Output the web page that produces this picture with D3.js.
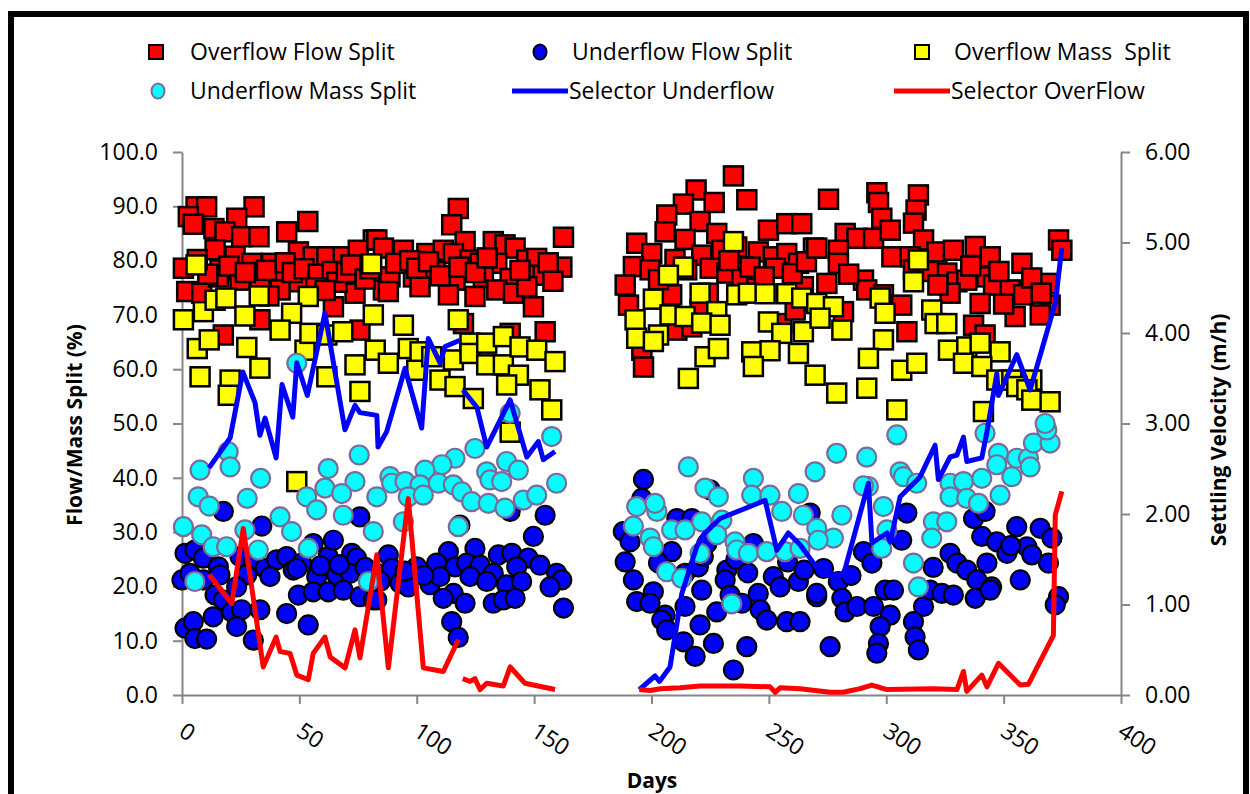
<!DOCTYPE html>
<html>
  <head>
    <meta charset="UTF-8" />
    <title>Flow and Mass Split</title>
    <script src="https://d3js.org/d3.v7.min.js"></script>
    <style>
      body { margin: 0; background: #fff; }
      svg text { font-family: "Open Sans", "Noto Sans", sans-serif; fill: #000; }
    </style>
  </head>
  <body>
    <svg id="chart" width="1250" height="794"></svg>
    <script>
      // [day, %] pairs
      const overflowFlow = [
        [6.0, 89.9], [10.5, 89.9], [30.7, 89.9], [2.7, 88.1], [4.8, 86.7], [13.6, 85.9], [23.3, 87.8],
        [18.3, 85.3], [25.4, 84.4], [32.8, 84.4], [44.6, 85.3], [53.6, 87.2], [14.1, 82.0], [22.6, 80.8],
        [29.7, 79.5], [38.2, 79.5], [0.6, 78.6], [16.2, 78.3], [49.6, 81.6], [55.9, 80.7], [61.7, 80.7],
        [68.7, 80.7], [81.5, 83.8], [75.1, 81.9], [2.0, 74.3], [8.4, 74.0], [15.5, 77.0], [24.7, 76.4],
        [33.2, 75.5], [41.8, 76.4], [49.6, 76.1], [41.8, 74.6], [64.5, 71.5], [33.2, 69.1], [17.6, 66.3],
        [73.7, 74.0], [75.8, 67.2], [85.8, 74.6], [11.0, 77.5], [20.0, 79.0], [27.0, 77.8], [36.0, 78.2],
        [44.0, 79.6], [47.0, 77.8], [52.0, 78.5], [58.0, 77.5], [64.0, 78.0], [66.0, 76.0], [70.0, 77.8],
        [72.0, 79.2], [78.0, 76.6], [80.0, 78.5], [57.0, 75.0], [61.0, 74.5], [37.0, 73.5], [6.5, 80.2],
        [117.7, 89.6], [114.9, 86.6], [120.6, 83.5], [162.5, 84.3], [83.0, 83.8], [85.8, 82.3], [94.3, 81.9],
        [104.3, 81.3], [111.3, 81.9], [115.6, 81.3], [132.6, 83.5], [137.6, 82.9], [141.9, 82.3], [122.7, 80.1],
        [127.0, 79.5], [134.1, 79.5], [146.9, 80.1], [151.1, 80.4], [161.8, 78.8], [88.6, 77.0], [98.6, 77.0],
        [107.8, 78.0], [116.3, 76.4], [128.4, 77.0], [139.8, 76.7], [147.5, 77.3], [153.9, 77.3], [87.9, 74.3],
        [101.4, 75.2], [113.5, 73.7], [124.8, 73.4], [134.1, 74.6], [141.2, 74.0], [146.9, 75.2], [149.7, 71.5],
        [119.9, 68.4], [139.8, 66.6], [154.7, 66.9], [91.0, 79.5], [97.0, 80.0], [100.0, 78.6], [105.0, 79.8],
        [110.0, 77.2], [118.0, 78.8], [125.0, 77.8], [130.0, 80.5], [144.0, 78.2], [156.0, 79.6], [158.0, 76.2],
        [234.9, 95.6], [219.0, 93.0], [240.6, 91.2], [213.6, 90.4], [226.7, 90.7], [206.5, 88.4], [220.7, 87.2],
        [205.8, 85.3], [214.3, 83.9], [193.7, 83.2], [227.8, 85.0], [200.1, 81.3], [221.4, 81.0], [230.0, 81.9],
        [236.3, 82.5], [245.5, 81.6], [249.8, 85.6], [257.6, 86.8], [264.0, 86.8], [251.9, 80.7], [257.6, 81.3],
        [262.6, 79.5], [269.0, 82.3], [192.3, 78.9], [199.4, 78.3], [188.8, 75.5], [208.6, 73.7], [215.0, 78.3],
        [225.0, 78.6], [232.1, 77.7], [238.5, 76.7], [244.9, 74.9], [252.7, 78.6], [264.7, 75.2], [190.2, 71.8],
        [220.7, 70.9], [224.2, 74.0], [210.8, 67.2], [217.2, 67.8], [255.5, 68.4], [261.2, 70.9], [195.9, 63.5],
        [196.6, 60.4], [203.0, 76.5], [210.0, 80.2], [233.0, 80.0], [242.0, 78.8], [248.0, 77.0], [260.0, 77.6],
        [266.0, 79.8],
        [275.4, 91.3], [296.0, 92.5], [296.7, 90.7], [313.7, 92.1], [312.7, 89.3], [298.1, 87.8], [311.6, 86.9],
        [282.5, 85.0], [287.5, 84.1], [294.6, 84.1], [301.7, 85.6], [315.9, 83.8], [270.4, 82.3], [279.6, 81.9],
        [279.6, 79.5], [302.4, 80.7], [310.2, 80.7], [321.6, 81.6], [328.6, 81.9], [337.9, 82.6], [344.3, 80.7],
        [357.8, 79.5], [373.4, 83.8], [374.8, 81.9], [274.7, 75.8], [290.3, 76.4], [291.7, 74.6], [298.8, 73.7],
        [306.6, 71.8], [311.6, 78.3], [325.8, 77.7], [330.1, 76.1], [334.3, 76.4], [342.9, 77.0], [345.7, 75.5],
        [352.8, 74.6], [358.5, 73.7], [369.1, 75.8], [369.8, 71.8], [327.2, 74.0], [340.0, 72.1], [354.9, 69.7],
        [365.6, 70.0], [281.8, 70.6], [308.8, 66.9], [337.2, 68.1], [342.1, 66.3], [284.0, 77.5], [318.0, 78.0],
        [322.0, 75.5], [336.0, 79.0], [348.0, 78.0], [362.0, 76.8], [366.0, 74.0], [350.0, 72.0]
      ];

      const underflowFlow = [
        [17.6, 33.8], [34.0, 31.1], [75.8, 32.8], [1.3, 26.1], [5.5, 26.7], [9.1, 25.2], [15.5, 23.6],
        [24.7, 25.5], [30.4, 24.3], [35.4, 23.3], [40.3, 24.9], [44.6, 25.5], [47.4, 23.0], [51.0, 24.3],
        [55.9, 27.9], [62.3, 25.5], [64.5, 28.5], [72.3, 26.1], [74.4, 25.2], [0.0, 21.2], [3.4, 22.4],
        [9.1, 21.2], [16.2, 22.1], [27.6, 22.1], [37.5, 21.8], [48.9, 23.3], [57.4, 21.8], [65.9, 22.1],
        [71.6, 22.4], [83.0, 22.4], [14.1, 18.4], [17.6, 17.5], [23.3, 19.9], [49.6, 18.4], [55.9, 19.0],
        [62.3, 19.0], [68.7, 19.3], [75.8, 18.1], [81.5, 17.5], [13.3, 14.4], [21.2, 15.3], [25.4, 15.7],
        [33.2, 15.7], [44.6, 15.0], [23.3, 12.6], [1.3, 12.3], [4.8, 13.5], [5.5, 10.4], [10.5, 10.3],
        [30.4, 10.1], [53.8, 12.9], [59.0, 23.8], [67.0, 24.0], [78.0, 23.5],
        [154.7, 33.1], [149.7, 29.2], [118.4, 31.3], [139.8, 33.8], [87.9, 25.8], [113.5, 26.4], [124.8, 27.0],
        [134.8, 25.8], [140.5, 26.1], [147.5, 25.2], [89.3, 23.3], [100.0, 23.6], [108.5, 24.3], [116.3, 23.6],
        [121.3, 24.3], [127.0, 23.9], [132.6, 22.4], [142.6, 23.6], [152.5, 23.9], [159.6, 22.4], [161.8, 21.2],
        [84.4, 20.9], [92.9, 20.6], [96.4, 19.9], [105.7, 20.3], [109.9, 21.8], [122.7, 21.8], [129.8, 20.9],
        [138.3, 20.3], [144.7, 20.9], [156.8, 19.9], [83.0, 17.5], [115.6, 18.7], [111.3, 17.8], [120.6, 16.9],
        [132.6, 16.9], [136.9, 17.5], [141.9, 17.8], [162.5, 16.0], [114.9, 13.5], [117.7, 10.6], [95.0, 22.8],
        [103.0, 22.0],
        [196.6, 39.7], [195.9, 36.2], [188.0, 30.1], [190.9, 28.2], [188.8, 24.5], [192.3, 21.2], [200.8, 19.0],
        [193.7, 17.2], [199.4, 16.9], [205.8, 14.7], [204.4, 13.8], [206.5, 12.0], [210.8, 32.5], [217.2, 32.5],
        [208.6, 26.4], [203.0, 24.3], [214.3, 22.4], [220.0, 23.6], [222.1, 25.5], [223.6, 27.9], [225.0, 37.8],
        [221.4, 19.3], [214.3, 16.3], [220.7, 12.9], [213.6, 9.8], [218.6, 7.1], [226.4, 9.5], [234.9, 4.6],
        [240.6, 8.9], [232.1, 23.0], [231.4, 21.2], [233.5, 18.4], [238.5, 16.9], [227.8, 15.3], [243.4, 27.9],
        [245.5, 18.7], [246.3, 15.7], [249.1, 13.8], [251.9, 21.8], [254.8, 19.9], [257.6, 13.5], [263.3, 13.5],
        [262.6, 20.9], [267.6, 33.5], [270.4, 18.1], [236.0, 25.0], [241.0, 22.5], [258.0, 24.5], [265.0, 23.0],
        [308.8, 33.5], [337.2, 32.5], [342.1, 33.8], [306.6, 28.5], [340.7, 29.2], [347.1, 28.2], [355.6, 31.0],
        [365.6, 30.7], [370.6, 28.9], [290.3, 26.4], [293.9, 24.3], [327.2, 26.1], [330.1, 24.3], [334.3, 23.0],
        [338.6, 21.2], [344.9, 19.9], [342.9, 24.3], [351.4, 26.1], [359.9, 27.3], [369.1, 24.3], [357.1, 21.2],
        [273.3, 23.3], [279.6, 20.9], [270.4, 18.7], [281.1, 17.8], [282.5, 15.3], [287.5, 16.3], [294.6, 16.3],
        [301.7, 14.7], [299.5, 19.3], [303.1, 19.3], [315.9, 16.3], [318.7, 19.3], [323.7, 18.7], [328.6, 18.4],
        [337.9, 17.8], [344.3, 19.3], [297.4, 12.6], [296.7, 9.5], [296.0, 7.7], [311.6, 13.5], [312.3, 10.7],
        [313.7, 8.3], [276.1, 8.9], [373.4, 18.1], [372.0, 16.6], [362.0, 25.8], [353.0, 27.5], [285.0, 22.0],
        [320.0, 23.5]
      ];

      const overflowMass = [
        [6.0, 79.2], [80.8, 79.4], [0.6, 69.1], [9.1, 70.6], [14.1, 72.7], [18.7, 73.1], [32.9, 73.5],
        [53.8, 73.4], [26.8, 69.8], [46.7, 70.3], [41.8, 67.2], [6.5, 63.8], [11.6, 65.4], [27.6, 64.0],
        [52.4, 63.5], [54.5, 66.6], [61.7, 66.3], [68.5, 66.9], [33.2, 60.2], [7.7, 58.6], [20.5, 58.0],
        [19.7, 55.2], [61.7, 58.6], [73.7, 60.8], [75.8, 55.9], [81.5, 70.0], [82.3, 63.5], [87.9, 61.1],
        [48.9, 39.3], [117.7, 69.1], [94.3, 68.1], [96.4, 63.8], [101.4, 63.2], [100.0, 59.8], [106.4, 62.3],
        [109.9, 58.0], [115.6, 61.7], [116.3, 56.8], [122.7, 64.8], [122.7, 62.9], [129.8, 64.8], [136.9, 66.0],
        [129.8, 60.8], [136.9, 60.8], [144.0, 64.1], [151.1, 63.5], [143.3, 58.9], [138.3, 57.1], [158.9, 61.4],
        [152.5, 56.2], [124.1, 54.6], [157.5, 52.5], [139.8, 48.4],
        [234.9, 83.5], [213.6, 78.8], [207.2, 77.3], [200.8, 72.9], [220.7, 74.0], [236.3, 73.7], [241.3, 74.0],
        [248.4, 73.9], [257.6, 73.9], [264.0, 73.1], [270.4, 72.1], [193.0, 69.1], [207.9, 70.0], [214.3, 69.7],
        [227.8, 70.6], [221.4, 68.5], [229.2, 68.1], [249.8, 68.7], [255.5, 66.6], [264.7, 66.9], [193.7, 65.7],
        [203.0, 66.3], [200.8, 65.1], [222.8, 62.3], [228.5, 63.8], [242.7, 63.2], [250.5, 63.4], [262.6, 62.9],
        [243.4, 60.5], [215.7, 58.3], [269.7, 58.9],
        [313.7, 80.1], [311.6, 76.1], [297.4, 73.1], [299.5, 70.3], [277.5, 71.5], [271.8, 69.4], [281.1, 67.2],
        [319.4, 70.9], [320.8, 68.4], [325.8, 68.4], [298.8, 65.4], [292.4, 62.0], [306.6, 59.8], [313.0, 61.1],
        [278.9, 55.6], [291.7, 56.5], [304.5, 52.5], [326.5, 63.5], [334.3, 64.1], [340.0, 64.8], [348.5, 63.2],
        [332.9, 61.1], [340.7, 60.5], [347.1, 58.0], [353.5, 58.0], [362.0, 58.0], [355.6, 56.8], [359.9, 56.2],
        [362.0, 54.3], [369.8, 54.0], [341.4, 52.2]
      ];

      const underflowMass = [
        [48.9, 61.1], [19.7, 44.8], [7.7, 41.4], [20.5, 42.0], [33.5, 39.9], [62.3, 41.7], [75.5, 44.2],
        [73.7, 39.3], [6.9, 36.5], [11.6, 34.8], [27.8, 36.2], [53.1, 36.5], [60.9, 38.1], [68.0, 37.1],
        [83.0, 36.5], [57.4, 34.1], [68.7, 33.1], [0.6, 31.0], [41.8, 32.8], [46.7, 30.1], [8.4, 29.5],
        [13.3, 27.3], [19.0, 27.3], [26.8, 30.4], [32.5, 26.7], [53.8, 27.0], [81.5, 30.1], [5.5, 20.9],
        [79.4, 20.9],
        [157.5, 47.6], [139.8, 51.9], [124.8, 45.4], [138.3, 43.0], [143.3, 41.4], [116.3, 43.6], [110.7, 42.4],
        [103.5, 41.4], [88.6, 40.2], [89.3, 39.0], [95.0, 39.3], [101.4, 38.7], [109.2, 39.0], [115.6, 38.7],
        [129.8, 41.1], [131.2, 39.6], [136.2, 39.3], [96.4, 36.5], [102.8, 36.8], [119.2, 37.4], [123.4, 35.6],
        [130.5, 35.3], [137.6, 34.4], [145.4, 35.9], [151.1, 36.8], [159.6, 39.0], [94.3, 31.9], [117.7, 31.0],
        [215.7, 42.0], [243.4, 39.9], [222.8, 38.1], [228.5, 36.5], [242.7, 36.8], [250.5, 36.8], [262.6, 37.1],
        [269.7, 41.1], [193.7, 34.7], [202.3, 33.8], [201.5, 35.3], [192.3, 31.1], [208.6, 30.4], [214.3, 30.4],
        [221.4, 31.9], [230.0, 32.2], [255.5, 33.8], [264.7, 33.1], [270.4, 30.7], [199.4, 28.9], [200.8, 27.3],
        [220.7, 26.1], [227.8, 29.5], [235.6, 28.2], [236.3, 26.7], [241.3, 26.1], [249.1, 26.4], [256.9, 26.4],
        [263.3, 27.0], [206.5, 22.7], [212.9, 21.5], [234.2, 16.8],
        [304.5, 47.9], [278.9, 44.5], [291.7, 43.8], [292.4, 38.4], [290.3, 38.5], [305.9, 41.1], [307.3, 40.2],
        [313.0, 39.0], [298.8, 34.7], [281.1, 33.1], [277.5, 28.9], [271.0, 28.5], [298.1, 27.0], [300.3, 30.4],
        [320.1, 31.9], [325.8, 31.9], [319.4, 28.9], [311.6, 24.3], [313.7, 19.9], [327.2, 39.0], [332.9, 39.3],
        [327.2, 36.5], [334.3, 36.2], [340.7, 39.9], [339.3, 35.3], [342.1, 48.2], [347.8, 44.5], [347.1, 42.4],
        [353.5, 40.2], [348.5, 36.8], [355.6, 43.6], [360.6, 43.6], [361.3, 42.0], [362.7, 46.4], [369.8, 46.4],
        [368.4, 48.8], [367.7, 50.0]
      ];

      // [day, m/h]; null marks a break in the line
      const selectorUnderflow = [
        [11.5, 2.51], [20.5, 2.84], [25.9, 3.57], [31.1, 3.23], [33.2, 2.87], [35.4, 3.06], [40.1, 2.62],
        [42.6, 3.43], [47.2, 3.07], [48.9, 3.67], [53.4, 3.31], [60.9, 4.22], [69.4, 2.93], [73.7, 3.2],
        [75.8, 3.12], [83.0, 3.09], [83.5, 2.74], [87.2, 2.91], [95.0, 3.61], [102.1, 2.95], [104.9, 3.94],
        [109.9, 3.67], [112.1, 3.85], [118.4, 3.92], [119.0, null], [119.7, 3.37], [125.6, 3.18], [129.8, 2.74],
        [139.8, 3.26], [146.9, 2.63], [151.8, 2.8], [153.9, 2.6], [158.9, 2.69], [175, null],
        [194.8, 0.06], [201.5, 0.21], [203.4, 0.15], [207.9, 0.31], [212.9, 1.12], [219.3, 1.64], [222.1, 1.77],
        [229.2, 1.95], [248.4, 2.15], [253.4, 1.6], [258.3, 1.79], [263.3, 1.66], [272.6, 1.33], [281.8, 1.33],
        [292.4, 2.34], [293.9, 1.68], [300.3, 1.79], [301.7, 1.69], [305.9, 2.19], [314.4, 2.41], [320.8, 2.76],
        [322.2, 2.38], [327.2, 2.63], [330.1, 2.65], [332.9, 2.85], [334.3, 2.58], [340.7, 2.62], [342.9, 2.91],
        [347.1, 3.55], [347.8, 3.31], [355.6, 3.76], [361.3, 3.37], [372.0, 4.33], [374.8, 4.94]
      ];

      const selectorOverflow = [
        [11.6, 1.33], [21.2, 1.01], [26.1, 1.84], [34.6, 0.31], [40.1, 0.64], [41.8, 0.48], [46.0, 0.46],
        [48.9, 0.22], [53.8, 0.17], [55.9, 0.46], [60.9, 0.64], [63.1, 0.42], [69.5, 0.3], [73.7, 0.72],
        [75.8, 0.41], [83.0, 1.55], [87.9, 0.3], [96.4, 2.17], [102.8, 0.3], [111.3, 0.26], [117.7, 0.61],
        [118.6, null], [119.6, 0.18], [122.7, 0.15], [124.8, 0.18], [127.0, 0.06], [129.8, 0.13], [136.9, 0.1],
        [139.8, 0.31], [146.1, 0.13], [158.9, 0.06], [175, null],
        [194.8, 0.06], [199.4, 0.05], [203.7, 0.07], [212.2, 0.08], [220.7, 0.1], [237.7, 0.1], [250.5, 0.09],
        [252.7, 0.03], [254.8, 0.08], [263.3, 0.07], [276.1, 0.03], [281.6, 0.03], [288.9, 0.07], [293.9, 0.11],
        [300.3, 0.06], [320.1, 0.07], [330.1, 0.06], [332.9, 0.26], [334.3, 0.04], [340.7, 0.22], [342.9, 0.09],
        [347.8, 0.35], [357.1, 0.11], [360.6, 0.12], [371.2, 0.66], [372.0, 1.99], [374.8, 2.25]
      ];

      const leftTicks = d3.range(0, 101, 10);
      const rightTicks = d3.range(0, 7, 1);
      const dayTicks = d3.range(0, 401, 50);

      const svg = d3.select("#chart");
      const x = d3.scaleLinear().domain([0, 400]).range([182, 1121]);
      const yL = d3.scaleLinear().domain([0, 100]).range([695, 152]);
      const yR = d3.scaleLinear().domain([0, 6]).range([695, 152]);

      // outer frame
      svg.append("rect").attr("x", 11).attr("y", 14).attr("width", 1235).attr("height", 820)
        .attr("fill", "#fff").attr("stroke", "#000").attr("stroke-width", 6);

      // axes
      const axisColor = "#868686";
      const styleAxis = (g) => {
        g.select(".domain").attr("stroke", axisColor).attr("stroke-width", 2);
        g.selectAll(".tick line").attr("stroke", axisColor).attr("stroke-width", 2);
        g.selectAll(".tick text").style("font-size", "23px").attr("fill", "#000");
      };

      svg.append("g").attr("transform", "translate(182,0)")
        .call(d3.axisLeft(yL).tickValues(leftTicks).tickFormat(d3.format(".1f")).tickSize(9).tickSizeOuter(0).tickPadding(15))
        .call(styleAxis);

      svg.append("g").attr("transform", "translate(1121,0)")
        .call(d3.axisRight(yR).tickValues(rightTicks).tickFormat(d3.format(".2f")).tickSize(9).tickSizeOuter(0).tickPadding(15))
        .call(styleAxis);

      const xg = svg.append("g").attr("transform", "translate(0,695)")
        .call(d3.axisBottom(x).tickValues(dayTicks).tickFormat(d3.format("d")).tickSize(9).tickSizeOuter(0))
        .call(styleAxis);
      xg.selectAll(".tick text")
        .attr("text-anchor", "start")
        .attr("y", 0).attr("dy", 0)
        .attr("transform", "translate(-5,40) rotate(33)");

      // axis titles
      svg.append("text").attr("transform", "translate(82,425) rotate(-90)")
        .attr("text-anchor", "middle").style("font-size", "21px").style("font-weight", "bold")
        .text("Flow/Mass Split (%)");
      svg.append("text").attr("transform", "translate(1226,430) rotate(-90)")
        .attr("text-anchor", "middle").style("font-size", "21px").style("font-weight", "bold")
        .text("Settling Velocity (m/h)");
      svg.append("text").attr("x", 652).attr("y", 788)
        .attr("text-anchor", "middle").style("font-size", "21px").style("font-weight", "bold")
        .text("Days");

      // markers
      const sq = 19;
      const squares = (data, fill) => svg.append("g").selectAll("rect").data(data).join("rect")
        .attr("x", (d) => x(d[0]) - sq / 2).attr("y", (d) => yL(d[1]) - sq / 2)
        .attr("width", sq).attr("height", sq)
        .attr("fill", fill).attr("stroke", "#000").attr("stroke-width", 2.5);
      const circles = (data, fill, stroke) => svg.append("g").selectAll("circle").data(data).join("circle")
        .attr("cx", (d) => x(d[0])).attr("cy", (d) => yL(d[1])).attr("r", 9.5)
        .attr("fill", fill).attr("stroke", stroke).attr("stroke-width", 2.2);

      squares(overflowFlow, "#ff0000");
      circles(underflowFlow, "#0000ff", "#000");
      squares(overflowMass, "#ffff00");
      circles(underflowMass, "#00ffff", "#7a6b99");

      const line = d3.line().defined((d) => d[1] != null).x((d) => x(d[0])).y((d) => yR(d[1]));
      svg.append("path").datum(selectorUnderflow).attr("d", line)
        .attr("fill", "none").attr("stroke", "#0000ff").attr("stroke-width", 5).attr("stroke-linejoin", "round");
      svg.append("path").datum(selectorOverflow).attr("d", line)
        .attr("fill", "none").attr("stroke", "#ff0000").attr("stroke-width", 5).attr("stroke-linejoin", "round");

      // legend
      const legend = svg.append("g").style("font-size", "23px");
      const legendItems = [
        { name: "Overflow Flow Split", kind: "square", fill: "#ff0000", stroke: "#000", x: 156, y: 52, tx: 190 },
        { name: "Underflow Flow Split", kind: "circle", fill: "#0000ff", stroke: "#000", x: 540, y: 52, tx: 572 },
        { name: "Overflow Mass  Split", kind: "square", fill: "#ffff00", stroke: "#000", x: 922, y: 52, tx: 954 },
        { name: "Underflow Mass Split", kind: "circle", fill: "#00ffff", stroke: "#7a6b99", x: 158, y: 91, tx: 190 },
        { name: "Selector Underflow", kind: "line", fill: "#0000ff", x: 512, y: 91, tx: 569 },
        { name: "Selector OverFlow", kind: "line", fill: "#ff0000", x: 894, y: 91, tx: 951 }
      ];
      legendItems.forEach((it) => {
        if (it.kind === "square") {
          legend.append("rect").attr("x", it.x - 7).attr("y", it.y - 7).attr("width", 14).attr("height", 14)
            .attr("fill", it.fill).attr("stroke", it.stroke).attr("stroke-width", 2);
        } else if (it.kind === "circle") {
          legend.append("ellipse").attr("cx", it.x).attr("cy", it.y).attr("rx", 6.5).attr("ry", 7.5)
            .attr("fill", it.fill).attr("stroke", it.stroke).attr("stroke-width", 2);
        } else {
          legend.append("line").attr("x1", it.x).attr("x2", it.x + 56).attr("y1", it.y).attr("y2", it.y)
            .attr("stroke", it.fill).attr("stroke-width", 5);
        }
        legend.append("text").attr("x", it.tx).attr("y", it.y + 8)
          .style("white-space", "pre").text(it.name);
      });
    </script>
  </body>
</html>
